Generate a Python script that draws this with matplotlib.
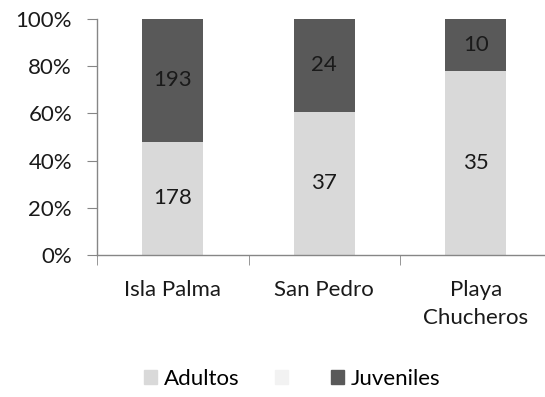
import matplotlib.pyplot as plt
import numpy as np
from matplotlib.patches import Patch

plt.rcParams['font.family'] = ['Lato', 'DejaVu Sans']

sites = ['Isla Palma', 'San Pedro', 'Playa\nChucheros']
adultos = np.array([178, 37, 35])
juveniles = np.array([193, 24, 10])

total = adultos + juveniles
pct_ad = adultos / total * 100
pct_juv = juveniles / total * 100

c_ad = '#d9d9d9'
c_juv = '#595959'
c_blank = '#f2f2f2'
axis_gray = '#868686'
txt = '#1a1a1a'
fs = 16

fig = plt.figure(figsize=(5.45, 3.97), dpi=100)
ax = fig.add_axes([97 / 545, 1 - 255 / 397, 454.5 / 545, 236 / 397])

x = np.arange(len(sites))
ax.bar(x, pct_ad, width=0.4, color=c_ad)
ax.bar(x, pct_juv, width=0.4, bottom=pct_ad, color=c_juv)

# counts written in the middle of each segment
for i in range(len(sites)):
    ax.text(x[i], pct_ad[i] / 2, str(adultos[i]), ha='center', va='center', fontsize=fs, color=txt)
    ax.text(x[i], pct_ad[i] + pct_juv[i] / 2, str(juveniles[i]), ha='center', va='center', fontsize=fs, color=txt)

ax.set_xlim(-0.5, 2.5)
ax.set_ylim(0, 100)
ax.set_yticks(np.arange(0, 101, 20))
ax.set_yticklabels([f'{v}%' for v in range(0, 101, 20)])
ax.set_xticks(x)
ax.set_xticklabels(sites, linespacing=1.5)
ax.set_xticks([-0.5, 0.5, 1.5], minor=True)

for s in ['top', 'right']:
    ax.spines[s].set_visible(False)
for s in ['left', 'bottom']:
    ax.spines[s].set_color(axis_gray)
    ax.spines[s].set_linewidth(1)

ax.tick_params(axis='y', length=7, color=axis_gray, pad=11, labelsize=fs, labelcolor=txt)
ax.tick_params(axis='x', which='major', length=0, pad=18, labelsize=fs, labelcolor=txt)
ax.tick_params(axis='x', which='minor', length=7, color=axis_gray)

handles = [Patch(color=c_ad), Patch(color=c_blank), Patch(color=c_juv)]
fig.legend(handles, ['Adultos', '', 'Juveniles'], loc='center', bbox_to_anchor=(292 / 545, 1 - 379 / 397),
           ncol=3, frameon=False, fontsize=fs, handlelength=0.6, handleheight=0.6,
           handletextpad=0.3, columnspacing=1.6)

fig.savefig('out.png', dpi=100)
